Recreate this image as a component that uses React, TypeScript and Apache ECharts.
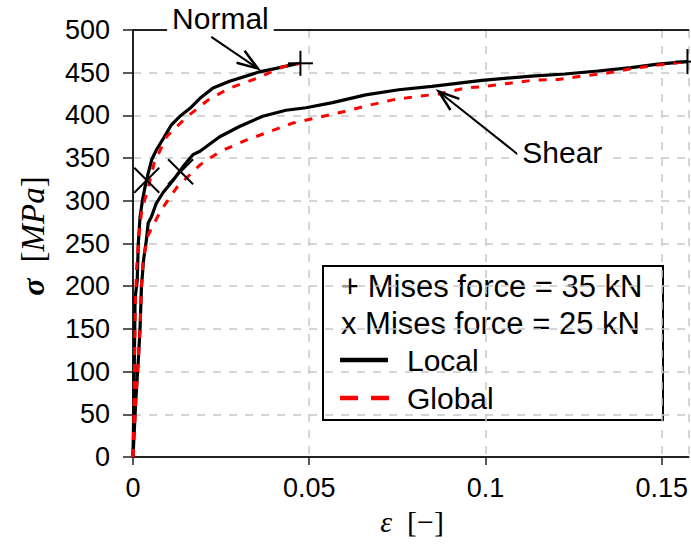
import React, { useEffect, useRef } from "react";
import * as echarts from "echarts";

// ---- data ----
const normalLocalEps = [0, 0.0002, 0.0004, 0.0006, 0.0012, 0.0015, 0.002, 0.0027, 0.0034, 0.0043, 0.0053, 0.0067, 0.0086, 0.0109, 0.0133, 0.0161, 0.019, 0.0227, 0.0274, 0.0359, 0.0406, 0.0472];
const normalLocalSig = [0, 50, 120, 186, 207, 250, 281, 301, 316, 332, 348, 360, 373, 389, 399, 408, 420, 432, 440, 451, 455, 461];

const normalGlobalEps = [0, 0.0002, 0.0004, 0.0006, 0.001, 0.0017, 0.0025, 0.0043, 0.006, 0.0095, 0.0152, 0.0213, 0.0274, 0.0349, 0.0425, 0.0475];
const normalGlobalSig = [0, 40, 100, 170, 220, 260, 289, 315, 344, 375, 398, 418, 432, 443, 457, 461];

const shearLocalEps = [0, 0.0008, 0.0015, 0.002, 0.0024, 0.003, 0.0038, 0.0043, 0.0052, 0.0066, 0.0086, 0.0114, 0.0142, 0.017, 0.019, 0.0246, 0.0302, 0.0368, 0.0434, 0.0491, 0.0566, 0.066, 0.0754, 0.0848, 0.099, 0.1131, 0.1225, 0.1319, 0.1413, 0.1489, 0.1573];
const shearLocalSig = [0, 67, 113, 150, 199, 231, 254, 274, 281, 297, 310, 324, 340, 354, 358, 375, 387, 399, 406, 409, 415, 424, 430, 434, 441, 446, 448.5, 452, 456, 460, 463];

const shearGlobalEps = [0, 0.0008, 0.0015, 0.002, 0.0024, 0.0029, 0.0043, 0.0078, 0.0125, 0.019, 0.0246, 0.0321, 0.0387, 0.0453, 0.0519, 0.0594, 0.066, 0.0735, 0.0801, 0.0867, 0.0943, 0.0999, 0.1074, 0.114, 0.1206, 0.1272, 0.1338, 0.1413, 0.1479, 0.1573];
const shearGlobalSig = [0, 67, 113, 150, 200, 231, 260, 288, 316, 342, 357.5, 371, 381, 391, 397, 404, 411, 418, 422, 425, 432, 434, 438, 441.5, 442, 446, 449, 454.6, 458.5, 463];

// markers: + (35 kN) and x (25 kN)
const plusPoints = [[0.0475, 461], [0.1573, 463]];
const crossPoints = [[0.0039, 324], [0.0135, 334]];

// annotations: arrow tails and tips, label texts and positions
const arrowTails = [[0.0222, 492], [0.1093, 354]];
const arrowTips = [[0.0354, 455], [0.0867, 428]];
const annotationTexts = ["Normal", "Shear"];
const annotationPos = [[0.0248, 513], [0.1218, 356]];

const xTicks = [0, 0.05, 0.1, 0.15];
const xMax = 0.1576;
const yMax = 500;
const yStep = 50;

const zip = (a: number[], b: number[]) => a.map((v, i) => [v, b[i]]);
const arrowData = arrowTails.map((t, i) => [t[0], t[1], arrowTips[i][0], arrowTips[i][1]]);

const SANS = "'Liberation Sans', Arial, sans-serif";
const SERIF = "'Liberation Serif', 'DejaVu Serif', serif";

export default function App() {
  const ref = useRef<HTMLDivElement>(null);
  useEffect(() => {
    if (!ref.current) return;
    const chart = echarts.init(ref.current, undefined, { renderer: "svg" });

    const markerItem = (kind: "plus" | "cross") => (params: any, api: any) => {
      const p = api.coord([api.value(0), api.value(1)]);
      const h = 12.5;
      const segs =
        kind === "plus"
          ? [[p[0] - h, p[1], p[0] + h, p[1]], [p[0], p[1] - h, p[0], p[1] + h]]
          : [[p[0] - h, p[1] - h, p[0] + h, p[1] + h], [p[0] - h, p[1] + h, p[0] + h, p[1] - h]];
      return {
        type: "group",
        children: segs.map((s) => ({
          type: "line",
          shape: { x1: s[0], y1: s[1], x2: s[2], y2: s[3] },
          style: { stroke: "#000", lineWidth: 2 },
        })),
      };
    };

    const option: any = {
      animation: false,
      backgroundColor: "#fff",
      grid: { left: 133, right: 0, top: 30, bottom: 89, containLabel: false },
      xAxis: [
        {
          type: "value",
          min: 0,
          max: xMax,
          interval: 0.05,
          axisLine: { show: true, onZero: false, lineStyle: { color: "#222", width: 2 } },
          axisTick: { show: true, inside: false, length: 8, lineStyle: { color: "#222", width: 1.5 } },
          axisLabel: {
            fontSize: 27,
            fontFamily: SANS,
            color: "#000",
            margin: 17,
            showMaxLabel: false,
            formatter: (v: number) => (xTicks.some((t) => Math.abs(t - v) < 1e-9) ? String(+v.toFixed(2)) : ""),
          },
          splitLine: { show: true, lineStyle: { color: "#c8c8c8", width: 1.5, type: [8, 8] } },
        },
        {
          type: "value",
          position: "top",
          min: 0,
          max: xMax,
          axisLine: { show: true, onZero: false, lineStyle: { color: "#222", width: 2 } },
          axisTick: { show: false },
          axisLabel: { show: false },
          splitLine: { show: false },
        },
      ],
      yAxis: {
        type: "value",
        min: 0,
        max: yMax,
        interval: yStep,
        axisLine: { show: true, onZero: false, lineStyle: { color: "#222", width: 2 } },
        axisTick: { show: true, inside: false, length: 10, lineStyle: { color: "#222", width: 1.5 } },
        axisLabel: { fontSize: 27, fontFamily: SANS, color: "#000", margin: 23 },
        splitLine: { show: true, lineStyle: { color: "#c8c8c8", width: 1.5, type: [8, 8] } },
      },
      series: [
        {
          name: "Normal Local",
          type: "line",
          data: zip(normalLocalEps, normalLocalSig),
          showSymbol: false,
          lineStyle: { color: "#000", width: 3.2 },
          z: 3,
        },
        {
          name: "Shear Local",
          type: "line",
          data: zip(shearLocalEps, shearLocalSig),
          showSymbol: false,
          lineStyle: { color: "#000", width: 3.2 },
          z: 3,
        },
        {
          name: "Normal Global",
          type: "line",
          data: zip(normalGlobalEps, normalGlobalSig),
          showSymbol: false,
          lineStyle: { color: "#ff0000", width: 3, type: [8, 9] },
          z: 4,
        },
        {
          name: "Shear Global",
          type: "line",
          data: zip(shearGlobalEps, shearGlobalSig),
          showSymbol: false,
          lineStyle: { color: "#ff0000", width: 3, type: [8, 9] },
          z: 4,
        },
        {
          name: "plus",
          type: "custom",
          data: plusPoints,
          clip: false,
          silent: true,
          z: 6,
          renderItem: markerItem("plus"),
        },
        {
          name: "cross",
          type: "custom",
          data: crossPoints,
          clip: false,
          silent: true,
          z: 6,
          renderItem: markerItem("cross"),
        },
        {
          name: "arrows",
          type: "custom",
          data: arrowData,
          clip: false,
          silent: true,
          z: 6,
          renderItem: (params: any, api: any) => {
            const a = api.coord([api.value(0), api.value(1)]);
            const b = api.coord([api.value(2), api.value(3)]);
            const ang = Math.atan2(b[1] - a[1], b[0] - a[0]);
            const L = 22;
            const spread = (19 * Math.PI) / 180;
            const w1 = [b[0] - L * Math.cos(ang - spread), b[1] - L * Math.sin(ang - spread)];
            const w2 = [b[0] - L * Math.cos(ang + spread), b[1] - L * Math.sin(ang + spread)];
            return {
              type: "group",
              children: [
                { type: "line", shape: { x1: a[0], y1: a[1], x2: b[0], y2: b[1] }, style: { stroke: "#000", lineWidth: 2 } },
                { type: "polyline", shape: { points: [w1, b, w2] }, style: { stroke: "#000", lineWidth: 2.5, fill: null } },
              ],
            };
          },
        },
        {
          name: "labels",
          type: "custom",
          data: annotationPos,
          clip: false,
          silent: true,
          z: 7,
          renderItem: (params: any, api: any) => {
            const p = api.coord([api.value(0), api.value(1)]);
            return {
              type: "text",
              x: p[0],
              y: p[1],
              style: {
                text: annotationTexts[params.dataIndex],
                fontSize: 30,
                fontFamily: SANS,
                fill: "#000",
                align: "center",
                verticalAlign: "middle",
                backgroundColor: "#fff",
                padding: [0, 5],
              },
            };
          },
        },
      ],
      graphic: [
        {
          type: "text",
          x: 33,
          y: 236,
          rotation: Math.PI / 2,
          z: 100,
          style: {
            text: "{s|σ}  {b|[}{m|MPa}{b|]}",
            align: "center",
            verticalAlign: "middle",
            fill: "#000",
            fontFamily: SERIF,
            fontSize: 32,
            rich: {
              s: { fontFamily: SERIF, fontSize: 32, fontWeight: "bold", fontStyle: "italic" },
              b: { fontFamily: SERIF, fontSize: 33 },
              m: { fontFamily: SERIF, fontSize: 33, fontStyle: "italic" },
            },
          },
        },
        {
          type: "text",
          x: 412,
          y: 521,
          z: 100,
          style: {
            text: "{e|ε}  {b|[−]}",
            align: "center",
            verticalAlign: "middle",
            fill: "#000",
            fontFamily: SERIF,
            fontSize: 30,
            rich: {
              e: { fontFamily: SERIF, fontSize: 30, fontStyle: "italic" },
              b: { fontFamily: SERIF, fontSize: 30 },
            },
          },
        },
        {
          type: "group",
          z: 100,
          children: [
            { type: "rect", shape: { x: 323, y: 266, width: 340, height: 154 }, style: { fill: "#fff", stroke: "#000", lineWidth: 2 } },
            { type: "text", x: 341, y: 286, style: { text: "+ Mises force = 35 kN", fontSize: 31, fontFamily: SANS, fill: "#000", verticalAlign: "middle" } },
            { type: "text", x: 341, y: 323, style: { text: "x Mises force = 25 kN", fontSize: 31, fontFamily: SANS, fill: "#000", verticalAlign: "middle" } },
            { type: "line", shape: { x1: 340, y1: 360, x2: 388, y2: 360 }, style: { stroke: "#000", lineWidth: 4.5 } },
            { type: "text", x: 407, y: 360, style: { text: "Local", fontSize: 30, fontFamily: SANS, fill: "#000", verticalAlign: "middle" } },
            { type: "line", shape: { x1: 340, y1: 398, x2: 389, y2: 398 }, style: { stroke: "#ff0000", lineWidth: 4.5, lineDash: [18, 13] } },
            { type: "text", x: 407, y: 398, style: { text: "Global", fontSize: 30, fontFamily: SANS, fill: "#000", verticalAlign: "middle" } },
          ],
        },
      ],
    };

    chart.setOption(option);
    return () => chart.dispose();
  }, []);

  return (
    <div
      ref={ref}
      style={{ position: "fixed", left: 0, top: 0, width: 691, height: 546, background: "#fff" }}
    />
  );
}
